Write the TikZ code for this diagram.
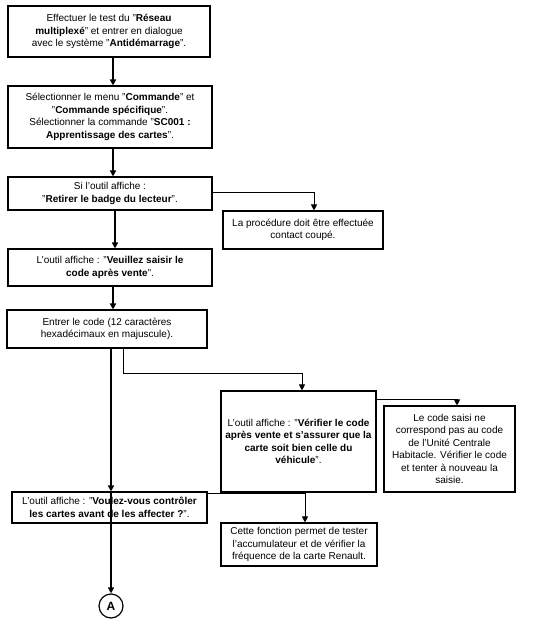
\documentclass[tikz,border=0pt]{standalone}
\usepackage{fontspec}
\setmainfont{Liberation Sans}
\usetikzlibrary{arrows.meta}
\begin{document}
\begin{tikzpicture}[x=0.75pt,y=-0.75pt,
  box/.style={draw=black,line width=0.8pt,align=center,inner sep=0pt,
    font=\fontsize{7.5}{9.4}\selectfont},
  mainarrow/.style={line width=1.3pt,-{Triangle[length=4.5pt,width=4.5pt]}},
  brarrow/.style={line width=0.7pt,-{Triangle[length=4.5pt,width=4.5pt]}}]
\useasboundingbox[fill=white] (0,0) rectangle (534,632);

\node[box,minimum width=151.5pt,minimum height=38.25pt] (b1) at (109,31.5)
  {Effectuer le test du "\textbf{Réseau}\\ \textbf{multiplexé}" et entrer en dialogue\\ avec le système "\textbf{Antidémarrage}".};
\node[box,minimum width=153pt,minimum height=46.5pt] (b2) at (110,117)
  {Sélectionner le menu "\textbf{Commande}" et\\ "\textbf{Commande spécifique}".\\ Sélectionner la commande "\textbf{SC001 :}\\ \textbf{Apprentissage des cartes}".};
\node[box,minimum width=153pt,minimum height=24.75pt] (b3) at (110,193.5)
  {Si l'outil affiche :\\ "\textbf{Retirer le badge du lecteur}".};
\node[box,minimum width=120pt,minimum height=28.5pt] (b4) at (303,230)
  {La procédure doit être effectuée\\ contact coupé.};
\node[box,minimum width=153pt,minimum height=27.75pt] (b5) at (110,267.5)
  {L'outil affiche : "\textbf{Veuillez saisir le}\\ \textbf{code après vente}".};
\node[box,minimum width=150pt,minimum height=28.5pt] (b6) at (107,329)
  {Entrer le code (12 caractères\\ hexadécimaux en majuscule).};
\node[box,minimum width=116.25pt,minimum height=75.75pt] (b8) at (298.5,441.5)
  {L'outil affiche : "\textbf{Vérifier le code}\\ \textbf{après vente et s'assurer que la}\\ \textbf{carte soit bien celle du}\\ \textbf{véhicule}".};
\node[box,minimum width=98.25pt,minimum height=64.5pt] (b9) at (449.5,449)
  {Le code saisi ne\\ correspond pas au code\\ de l'Unité Centrale\\ Habitacle. Vérifier le code\\ et tenter à nouveau la\\ saisie.};
\node[box,minimum width=146.25pt,minimum height=23.25pt] (b7) at (109.5,507.5)
  {L'outil affiche : "\textbf{Voulez-vous contrôler}\\ \textbf{les cartes avant de les affecter ?}".};
\node[box,minimum width=117pt,minimum height=32.25pt] (b10) at (299,544.5)
  {Cette fonction permet de tester\\ l'accumulateur et de vérifier la\\ fréquence de la carte Renault.};
\node[draw=black,line width=0.9pt,circle,minimum size=18pt,inner sep=0pt,
  font=\fontsize{9}{10}\selectfont\bfseries] (A) at (111,606) {A};

% vertical guide positions and bend points
\coordinate (x1) at (113,0);
\coordinate (x3) at (115,0);
\coordinate (x5) at (111,0);
\coordinate (k1) at (314,192);
\coordinate (k2) at (123,373);
\coordinate (k3) at (302,373);
\coordinate (k4) at (457,399);
\coordinate (k5) at (305,493);

% main flow
\draw[mainarrow] (b1.south -| x1) -- (b2.north -| x1);
\draw[mainarrow] (b2.south -| x1) -- (b3.north -| x1);
\draw[mainarrow] (b3.south -| x3) -- (b5.north -| x3);
\draw[mainarrow] (b5.south -| x1) -- (b6.north -| x1);
\draw[mainarrow] (b6.south -| x5) -- (b7.north -| x5);
\draw[mainarrow] (b7.north -| x5) -- (A.north);

% branches
\draw[brarrow] (b3.east |- k1) -- (k1) -- (b4.north -| k1);
\draw[brarrow] (b6.south -| k2) -- (k2) -- (k3) -- (b8.north -| k3);
\draw[brarrow] (b8.east |- k4) -- (k4) -- (b9.north -| k4);
\draw[brarrow] (b7.east |- k5) -- (k5) -- (b10.north -| k5);
\end{tikzpicture}
\end{document}
